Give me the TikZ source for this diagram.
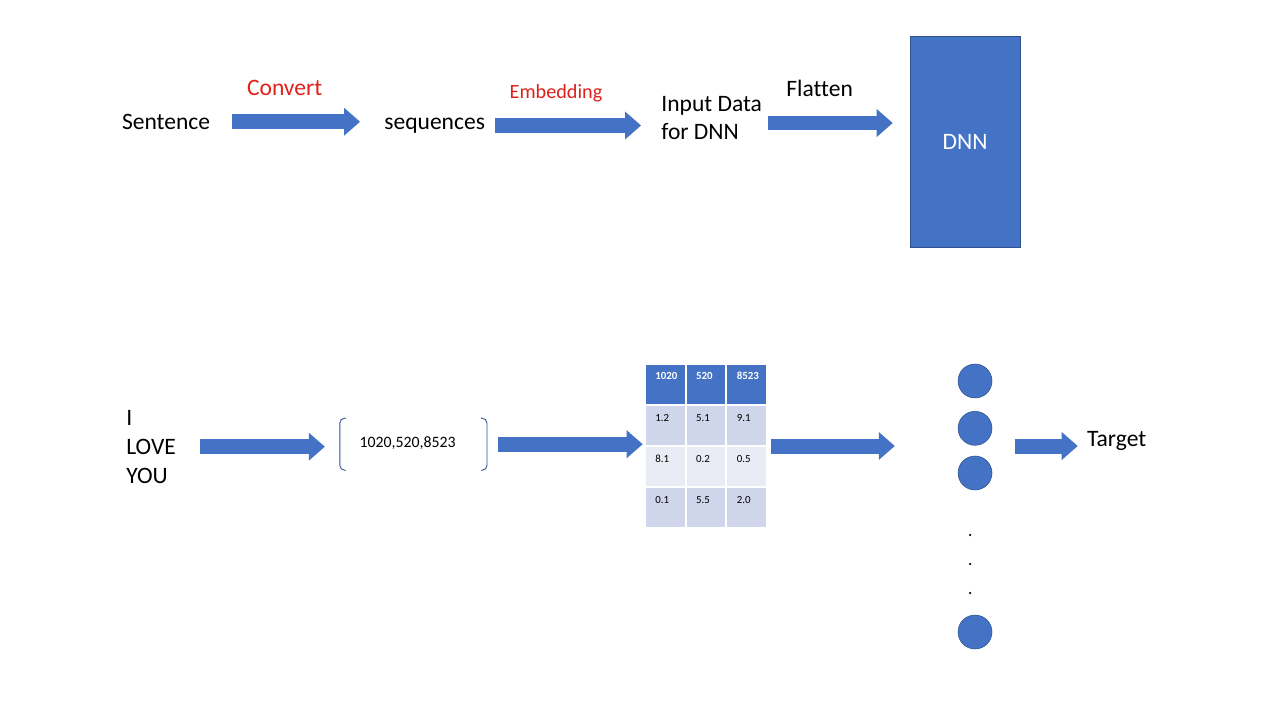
\documentclass[tikz,border=0pt]{standalone}
\usepackage{fontspec}
\setmainfont[Ligatures=NoCommon]{Carlito}
\usetikzlibrary{arrows.meta,positioning}
\definecolor{blk}{HTML}{4472C4}
\definecolor{blkline}{HTML}{2F528F}
\definecolor{rowA}{HTML}{CFD5EA}
\definecolor{rowB}{HTML}{E9EBF5}
\definecolor{lbl}{HTML}{E0201B}

\begin{document}
\begin{tikzpicture}[x=0.02cm,y=-0.02cm,
    blockarrow/.style={draw=blk,line width=3mm,-{Triangle[length=3.2mm,width=5.6mm,line width=0pt]}},
    word/.style={inner sep=0pt,font=\fontsize{13.4}{16}\selectfont},
    redword/.style={word,text=lbl},
    neuron/.style={circle,fill=blk,draw=blkline,line width=0.3pt,minimum size=6.8mm,inner sep=0pt},
    cell/.style={inner sep=0pt,anchor=west,font=\fontsize{6.2}{7}\selectfont}]
    \useasboundingbox (0,0) rectangle (1280,720);

    \node[word,anchor=base west] (sent) at (121.7,129.3) {Sentence};
    \node[word,anchor=base west] (seq) at (384,129.3) {sequences};
    \node[word,anchor=west,align=left] (inp) at (661,118) {Input Data\\for DNN};
    \node[draw=blkline,fill=blk,text=white,minimum width=22mm,minimum height=42.2mm,font=\fontsize{13.4}{16}\selectfont] (dnn) at (965,141.5) {DNN};
    \node[redword,anchor=base west] (conv) at (246.7,95.7) {Convert};
    \node[redword,anchor=base west,font=\fontsize{11.5}{14}\selectfont] (emb) at (509.3,98) {Embedding};
    \node[word,anchor=base west] (flat) at (786,96) {Flatten};

    \draw[blockarrow,shorten <=4.4mm,shorten >=4.8mm] (sent.east) -- (sent.east -| seq.west);
    \draw[blockarrow,shorten <=2mm,shorten >=4mm] (seq.east) -- (seq.east -| inp.west);
    \draw[blockarrow,shorten <=1.2mm,shorten >=3.4mm] ([yshift=-1mm]inp.east) -- ([yshift=-1mm]inp.east -| dnn.west);

    \node[word,anchor=west,align=left,font=\fontsize{13.4}{16.6}\selectfont] (words) at (126,446.7) {I\\LOVE\\YOU};
    \node[inner sep=0pt,minimum width=29.3mm,minimum height=10.3mm] (brk) at (413.4,444.2) {};
    \node[inner sep=0pt,anchor=base west,font=\fontsize{9}{11}\selectfont] (nums) at (359.3,447) {1020,520,8523};
    \draw[blkline,line width=0.5pt,rounded corners=1mm] ([xshift=1.2mm]brk.north west) -- (brk.north west) -- (brk.south west) -- ([xshift=1.2mm]brk.south west);
    \draw[blkline,line width=0.5pt,rounded corners=1mm] ([xshift=-1.2mm]brk.north east) -- (brk.north east) -- (brk.south east) -- ([xshift=-1.2mm]brk.south east);

    \node[minimum width=24.4mm,minimum height=32.8mm,inner sep=0pt] (tab) at (706,446) {};
    \foreach \h [count=\col from 0] in {1020,520,8523} {
        \fill[blk] (646+\col*40.7,365) rectangle ++(38.7,39);
        \node[cell,text=white,font=\bfseries\fontsize{6.2}{7}\selectfont] (h\col) at (655+\col*40.7,376) {\h};
    }
    \foreach \va/\vb/\vc/\shade [count=\r] in {1.2/5.1/9.1/rowA, 8.1/0.2/0.5/rowB, 0.1/5.5/2.0/rowA} {
        \foreach \v [count=\k from 0] in {\va,\vb,\vc} {
            \fill[\shade] (646+\k*40.7,365+\r*41) rectangle ++(38.7,39);
            \node[cell] (v\r\k) at (655+\k*40.7,377+\r*41) {\v};
        }
    }

    \node[neuron] (n1) at (975,381) {};
    \node[neuron] (n2) at (975,428.3) {};
    \node[neuron] (n3) at (975,473) {};
    \node[neuron] (n4) at (975,632) {};
    \foreach \y in {535,564,593} \fill (970,\y) circle (0.25mm);
    \node[word,anchor=base west] (tgt) at (1086.7,446) {Target};

    \draw[blockarrow,shorten <=4.7mm,shorten >=3mm] (words.east) -- (words.east -| brk.west);
    \draw[blockarrow,shorten <=2.3mm,shorten >=0.4mm] (brk.east) -- (brk.east -| tab.west);
    \draw[blockarrow,shorten <=0.8mm,shorten >=12.6mm] (tab.east) -- (tab.east -| n2.west);
    \draw[blockarrow,shorten <=4.5mm,shorten >=1.8mm] (n2.east |- tab.east) -- (tgt.west |- tab.east);
\end{tikzpicture}
\end{document}
